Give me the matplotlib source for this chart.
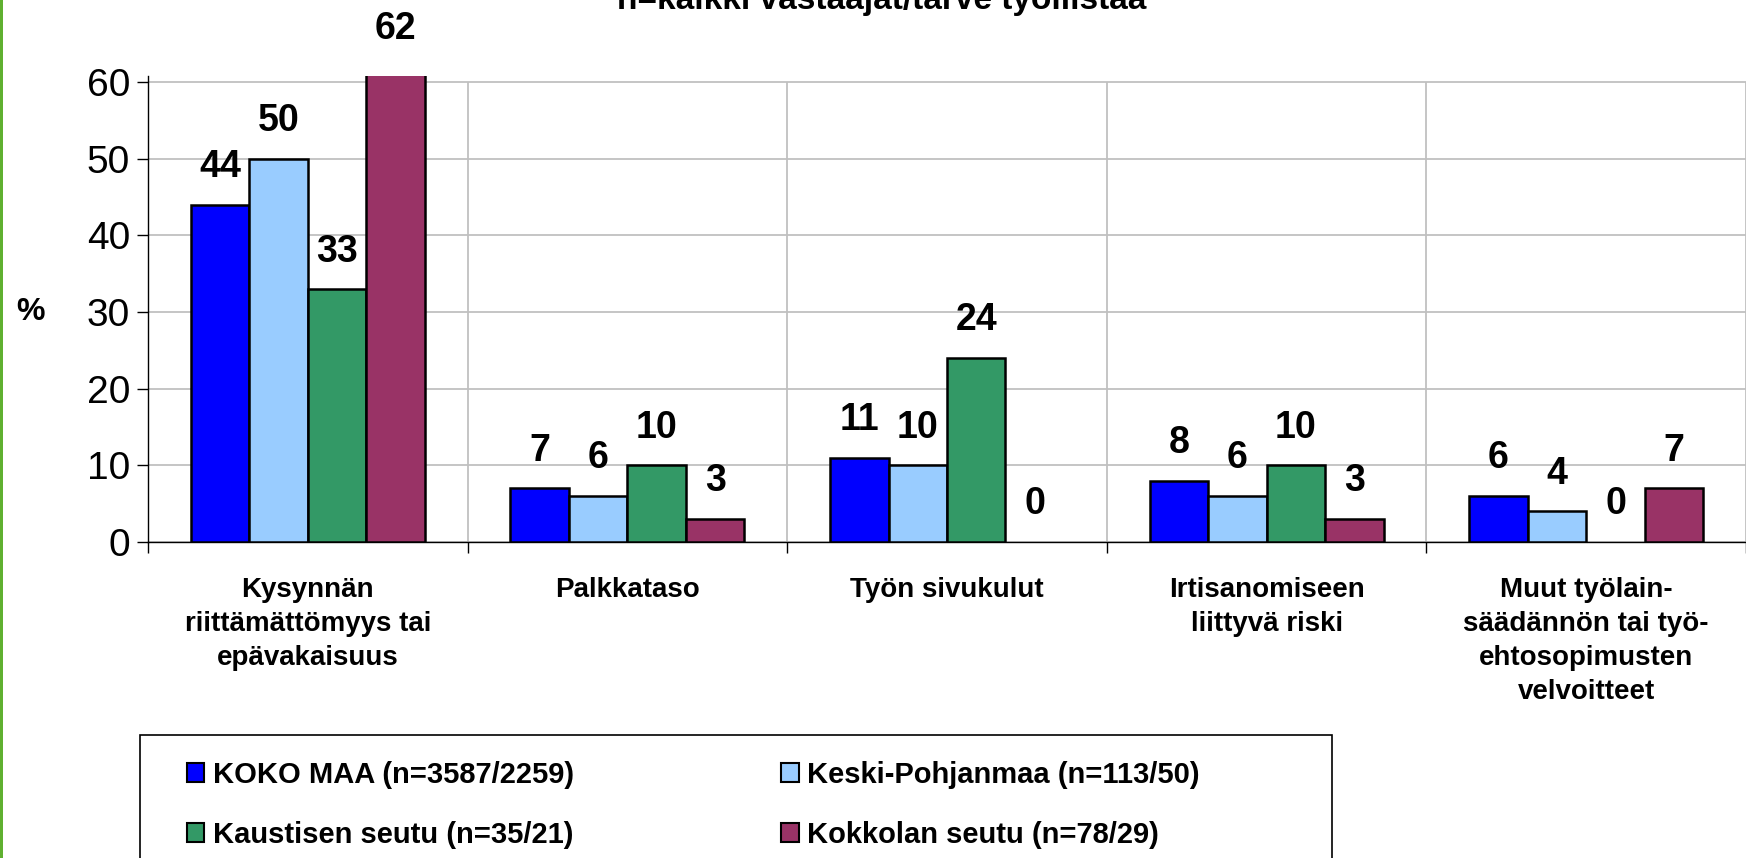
import matplotlib.pyplot as plt
from matplotlib.patches import Rectangle, Patch

plt.rcParams['font.family'] = ['Liberation Sans', 'DejaVu Sans']

# Data
categories = [
    "Kysynnän\nriittämättömyys tai\nepävakaisuus",
    "Palkkataso",
    "Työn sivukulut",
    "Irtisanomiseen\nliittyvä riski",
    "Muut työlain-\nsäädännön tai työ-\nehtosopimusten\nvelvoitteet",
]
series_names = [
    "KOKO MAA (n=3587/2259)",
    "Keski-Pohjanmaa (n=113/50)",
    "Kaustisen seutu (n=35/21)",
    "Kokkolan seutu (n=78/29)",
]
koko_maa = [44, 7, 11, 8, 6]
keski_pohjanmaa = [50, 6, 10, 6, 4]
kaustinen = [33, 10, 24, 10, 0]
kokkola = [62, 3, 0, 3, 7]
colors = ["#0000FF", "#99CCFF", "#339966", "#993366"]

values = [koko_maa, keski_pohjanmaa, kaustinen, kokkola]

W, H = 1746, 858
fig = plt.figure(figsize=(W / 100, H / 100), dpi=100)
ax = fig.add_axes([148 / W, 1 - 542 / H, 1 - 148 / W, (542 - 76) / H])

width = 0.183
x = range(len(categories))
for i, (name, vals) in enumerate(zip(series_names, values)):
    pos = [p + (i - 1.5) * width for p in x]
    ax.bar(pos, vals, width, color=colors[i], edgecolor='black',
           linewidth=[1.8 if v else 0 for v in vals], label=name, zorder=3)
    for px, v in zip(pos, vals):
        ax.text(px, v + 4.9, str(v), ha='center', va='center', fontsize=27,
                fontweight='bold', clip_on=False, zorder=4)

ax.set_xlim(-0.5, len(categories) - 0.5)
ax.set_ylim(0, 60.8)
ax.set_yticks(range(0, 61, 10))
ax.tick_params(axis='y', labelsize=28, length=8, width=1, direction='out', pad=5)
ax.set_xticks(list(x))
ax.set_xticklabels(categories, fontsize=20, fontweight='bold', linespacing=1.4,
                   va='top')
ax.tick_params(axis='x', which='major', length=0, pad=25)
ax.set_xticks([p + 0.5 for p in range(-1, len(categories))], minor=True)
ax.tick_params(axis='x', which='minor', length=8, width=1, direction='out')

ax.grid(axis='y', color='#c0c0c0', linewidth=1.3, zorder=0)
ax.vlines([p + 0.5 for p in range(len(categories))], 0, 60, color='#c0c0c0',
          linewidth=1.3, zorder=0)
for s in ['top', 'right']:
    ax.spines[s].set_visible(False)
ax.spines['left'].set_linewidth(1)
ax.spines['bottom'].set_linewidth(1)

fig.text(30 / W, 1 - 312 / H, '%', fontsize=23, fontweight='bold',
         ha='center', va='center')
fig.text(882 / W, 1 - 9 / H, 'n=kaikki vastaajat/tarve työllistää',
         fontsize=24, fontweight='bold', ha='center', va='baseline')

# legend box and green border
fig.patches.append(Rectangle((140 / W, -0.05), (1332 - 140) / W, 0.05 + 1 - 735 / H,
                             transform=fig.transFigure, facecolor='white',
                             edgecolor='black', linewidth=1.2, zorder=1))
fig.patches.append(Rectangle((0, 0), 3 / W, 1, transform=fig.transFigure,
                             facecolor='#5FB030', edgecolor='none'))

order = [0, 2, 1, 3]
handles = [Patch(facecolor=colors[k], edgecolor='black', linewidth=1.5) for k in order]
labels = [series_names[k] for k in order]
fig.legend(handles, labels, loc='upper left', ncol=2, frameon=False,
           bbox_to_anchor=(172 / W, 1 - 746 / H), prop={'size': 21, 'weight': 'bold'},
           handlelength=0.6, handleheight=0.6, handletextpad=0.3,
           columnspacing=7.1, labelspacing=1.1, borderpad=0)

plt.savefig('out.png', dpi=100)
